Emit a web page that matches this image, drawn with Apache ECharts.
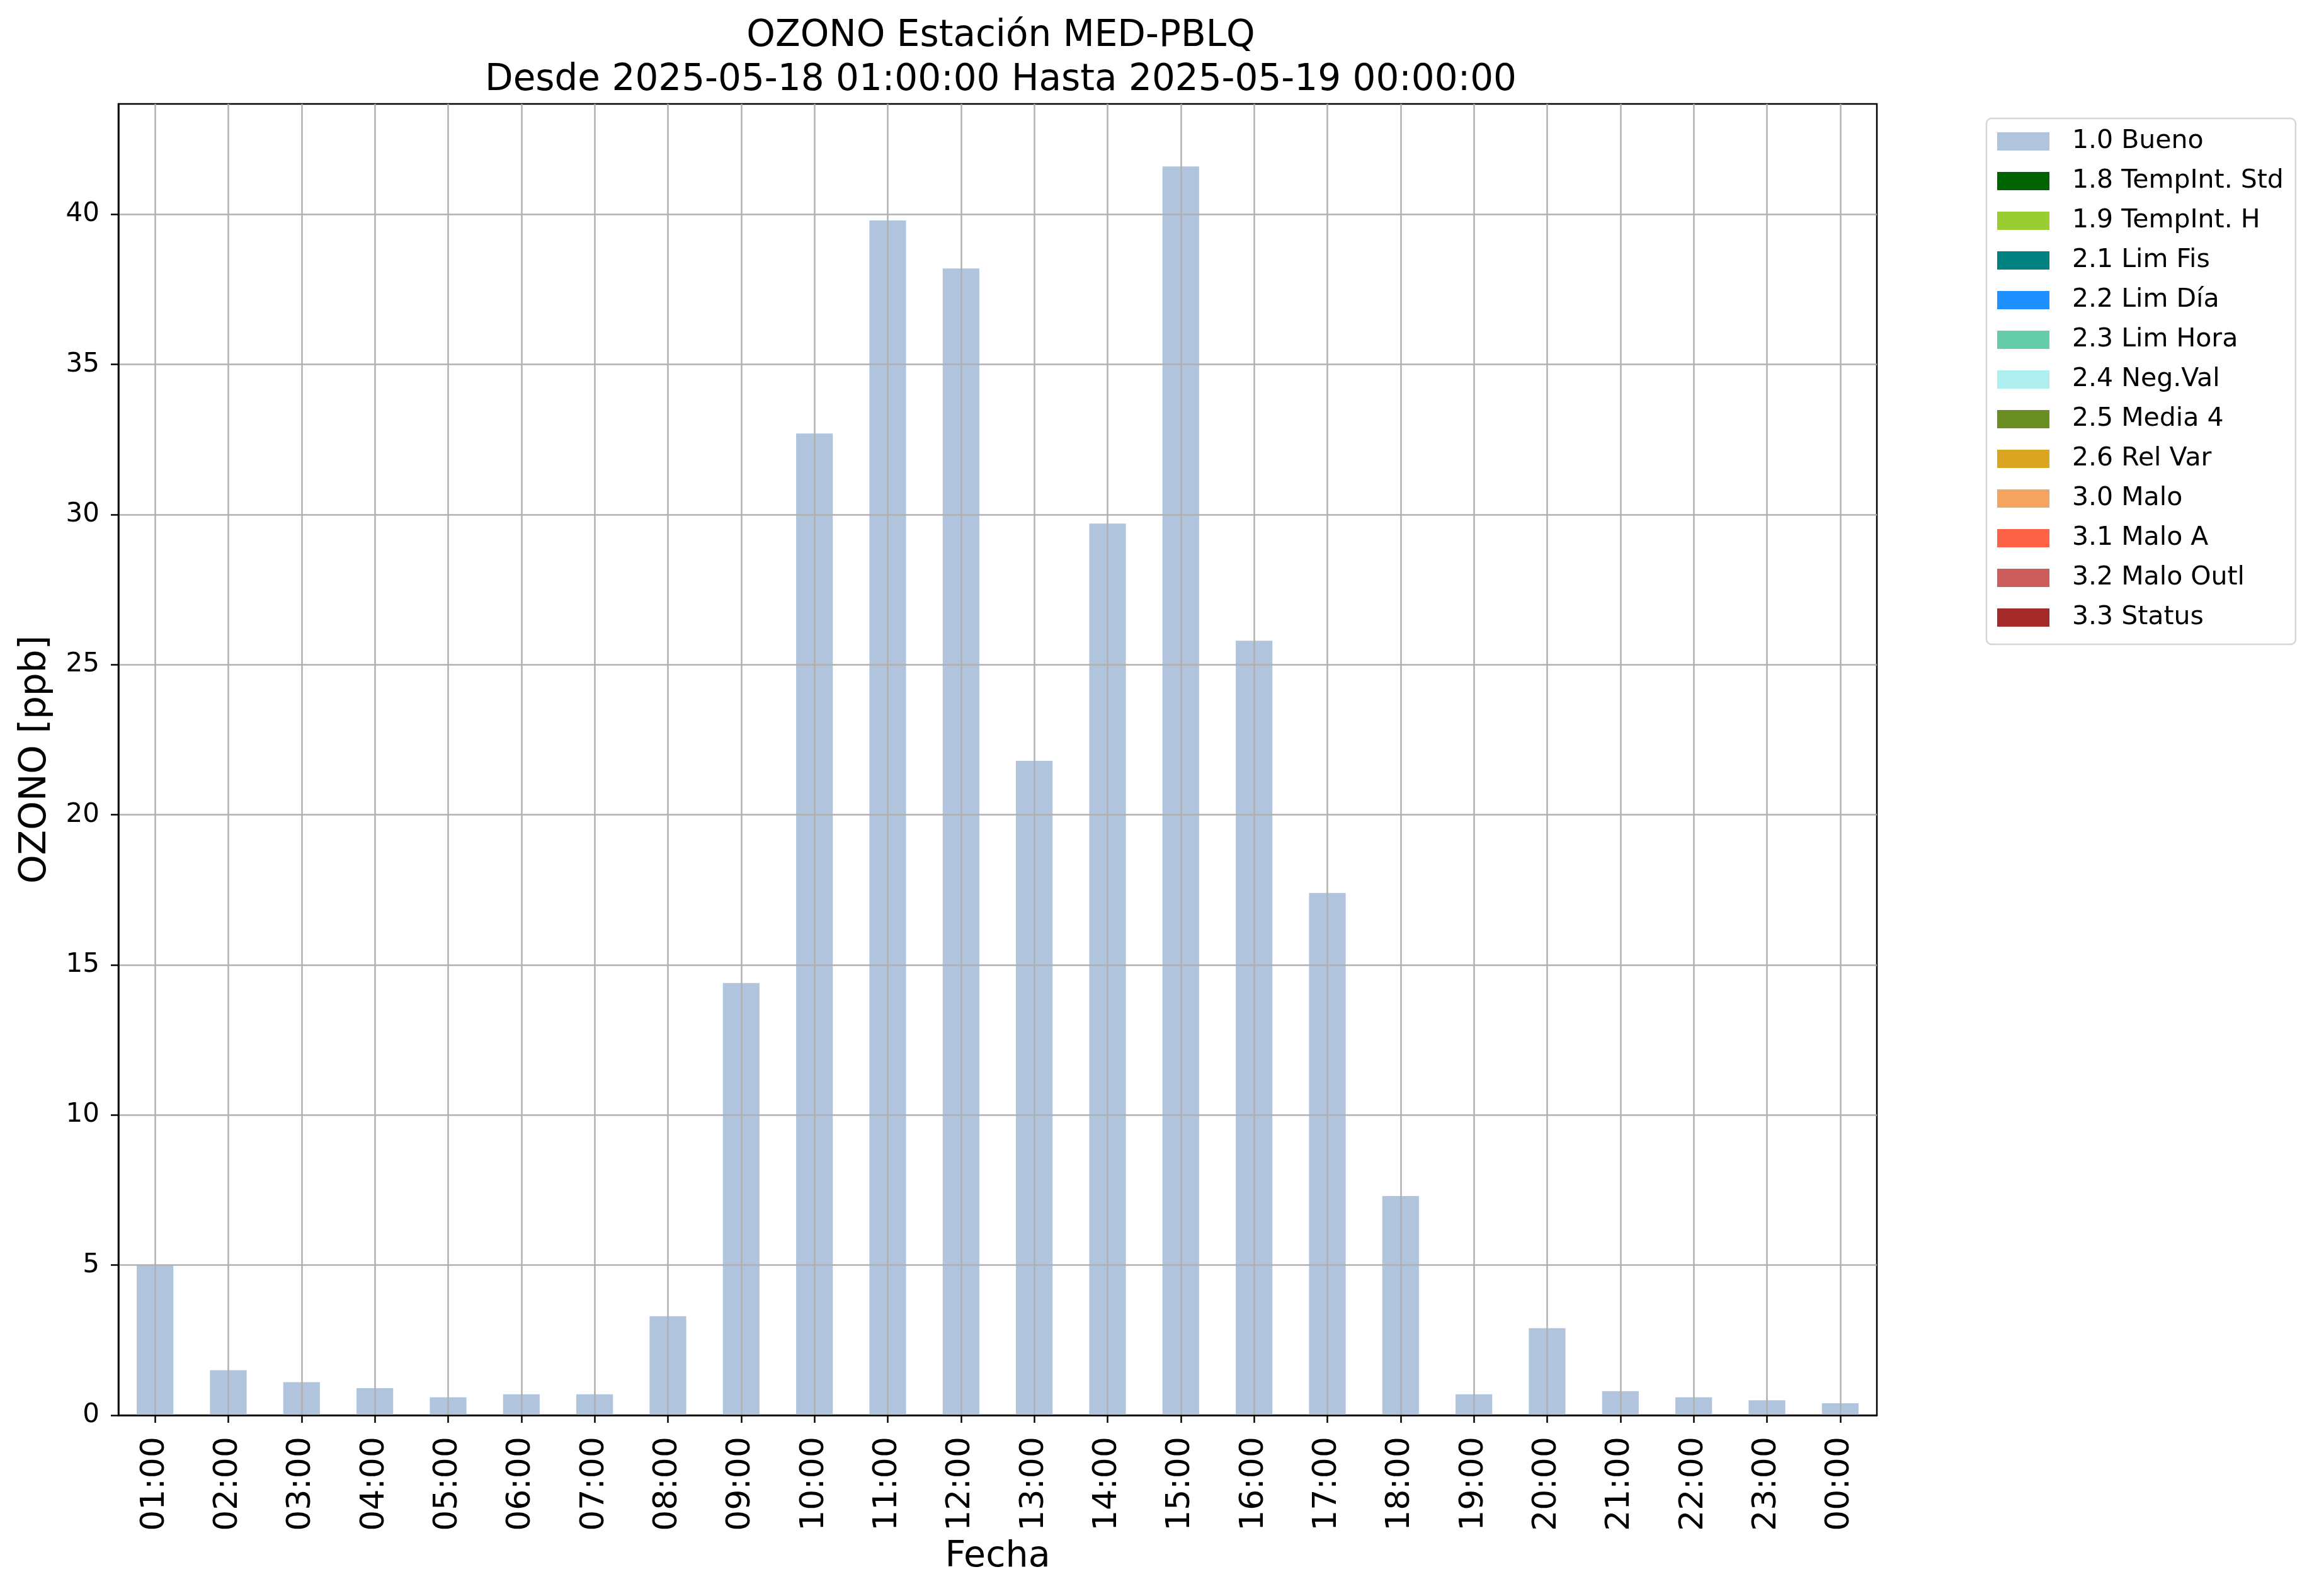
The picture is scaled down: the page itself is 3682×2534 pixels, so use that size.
<!DOCTYPE html>
<html>
<head>
<meta charset="utf-8">
<script src="https://cdn.jsdelivr.net/npm/echarts@6/dist/echarts.min.js"></script>
<style>
html,body{margin:0;padding:0;background:#fff;}
#chart{width:3682px;height:2534px;}
</style>
</head>
<body>
<div id="chart"></div>
<script>
const categories = ['01:00','02:00','03:00','04:00','05:00','06:00','07:00','08:00','09:00','10:00','11:00','12:00',
  '13:00','14:00','15:00','16:00','17:00','18:00','19:00','20:00','21:00','22:00','23:00','00:00'];
const buenoValues = [5.0,1.5,1.1,0.9,0.6,0.7,0.7,3.3,14.4,32.7,39.8,38.2,21.8,29.7,41.6,25.8,17.4,7.3,0.7,2.9,0.8,0.6,0.5,0.4];
const flagNames = ['1.0 Bueno','1.8 TempInt. Std','1.9 TempInt. H','2.1 Lim Fis','2.2 Lim Día','2.3 Lim Hora',
  '2.4 Neg.Val','2.5 Media 4','2.6 Rel Var','3.0 Malo','3.1 Malo A','3.2 Malo Outl','3.3 Status'];
const flagColors = ['#b0c4de','#006400','#9acd32','#008080','#1e90ff','#66cdaa','#afeeee','#6b8e23','#daa520',
  '#f4a460','#ff6347','#cd5c5c','#a52a2a'];
const yTicks = [0,5,10,15,20,25,30,35,40];
const yMax = 43.68;
const titleText = 'OZONO Estación MED-PBLQ\nDesde 2025-05-18 01:00:00 Hasta 2025-05-19 00:00:00';

const FONT = 'DejaVu Sans';
const chart = echarts.init(document.getElementById('chart'), null, {renderer: 'canvas'});

const series = flagNames.map((n, i) => ({
  name: n,
  type: 'bar',
  stack: 'flags',
  barWidth: '50%',
  itemStyle: {color: flagColors[i]},
  data: i === 0 ? buenoValues : []
}));

chart.setOption({
  animation: false,
  backgroundColor: '#fff',
  textStyle: {fontFamily: FONT},
  title: {
    text: titleText,
    left: 1584,
    top: 18,
    textAlign: 'center',
    textStyle: {fontFamily: FONT, fontSize: 58, fontWeight: 'normal', color: '#000', lineHeight: 70}
  },
  legend: {
    orient: 'vertical',
    left: 3154,
    top: 188,
    align: 'left',
    icon: 'rect',
    itemWidth: 83,
    itemHeight: 29,
    itemGap: 22,
    padding: [16, 19, 22, 17],
    borderColor: '#d6d6d6',
    borderWidth: 2.5,
    borderRadius: 8,
    backgroundColor: '#fff',
    data: flagNames,
    textStyle: {fontFamily: FONT, fontSize: 41, color: '#000', padding: [0, 0, 0, 31]}
  },
  grid: {
    left: 188, top: 165, width: 2792, height: 2082,
    show: true, borderColor: '#000', borderWidth: 2.5, backgroundColor: '#fff',
    containLabel: false
  },
  xAxis: {
    type: 'category',
    data: categories,
    z: 3,
    boundaryGap: true,
    name: 'Fecha',
    nameLocation: 'middle',
    nameGap: 197,
    nameTextStyle: {fontFamily: FONT, fontSize: 57, color: '#000'},
    axisLine: {show: true, lineStyle: {color: '#000', width: 2.5}},
    axisTick: {show: true, alignWithLabel: true, length: 12, lineStyle: {color: '#000', width: 2.5}},
    axisLabel: {rotate: 90, fontFamily: FONT, fontSize: 52, color: '#000', margin: 34, interval: 0},
    splitLine: {show: true, alignWithLabel: true, interval: 0, lineStyle: {color: '#b0b0b0', width: 2.5}}
  },
  yAxis: {
    type: 'value',
    min: 0,
    max: yMax,
    interval: 5,
    z: 3,
    name: 'OZONO [ppb]',
    nameLocation: 'middle',
    nameRotate: 90,
    nameGap: 102,
    nameTextStyle: {fontFamily: FONT, fontSize: 58, color: '#000'},
    axisLine: {show: true, lineStyle: {color: '#000', width: 2.5}},
    axisTick: {show: true, length: 12, customValues: yTicks, lineStyle: {color: '#000', width: 2.5}},
    axisLabel: {fontFamily: FONT, fontSize: 42, color: '#000', margin: 30, customValues: yTicks,
      formatter: v => (yTicks.indexOf(v) >= 0 ? String(v) : '')},
    splitLine: {show: true, lineStyle: {color: '#b0b0b0', width: 2.5}}
  },
  series: series
});
</script>
</body>
</html>
